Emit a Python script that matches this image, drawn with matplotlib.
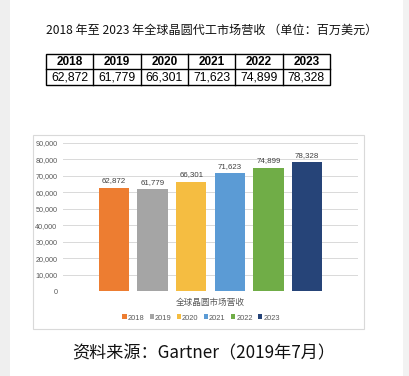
import matplotlib
matplotlib.use("Agg")
import matplotlib.pyplot as plt
from matplotlib.patches import Rectangle, Patch

years = ["2018", "2019", "2020", "2021", "2022", "2023"]
revenue = [62872, 61779, 66301, 71623, 74899, 78328]
colors = ["#ED7D31", "#A5A5A5", "#F5BD41", "#5B9BD5", "#70AD47", "#264478"]
yticks = [0, 10000, 20000, 30000, 40000, 50000, 60000, 70000, 80000, 90000]
title = "2018 年至 2023 年全球晶圆代工市场营收 （单位：百万美元）"
category = "全球晶圆市场营收"
source = "资料来源：Gartner（2019年7月）"

W, H = 409, 376
fig = plt.figure(figsize=(W / 100, H / 100), dpi=100)
fig.patch.set_facecolor("white")

def fx(px):
    return px / W

def fy(py):
    return 1 - py / H

cjk = ["Noto Sans CJK SC", "DejaVu Sans"]
latin = ["Liberation Sans", "DejaVu Sans"]

# side strips
fig.add_artist(Rectangle((0, 0), fx(10), 1, transform=fig.transFigure,
                         facecolor="#efefef", edgecolor="none", zorder=-2))
fig.add_artist(Rectangle((fx(403), 0), fx(6), 1, transform=fig.transFigure,
                         facecolor="#f2f2f2", edgecolor="none", zorder=-2))

# title
fig.text(fx(212), fy(30), title, ha="center", va="center", fontsize=8.7,
         family=cjk, color="#111111")

# table
tl, tr, ttop, tmid, tbot = 46, 330, 54, 69, 85
n = len(years)
cw = (tr - tl) / n
fig.add_artist(Rectangle((fx(tl), fy(tbot)), fx(tr) - fx(tl), fy(ttop) - fy(tbot),
                         transform=fig.transFigure, facecolor="none",
                         edgecolor="black", lw=1.0))
fig.add_artist(plt.Line2D([fx(tl), fx(tr)], [fy(tmid), fy(tmid)],
                          transform=fig.transFigure, color="black", lw=1.0))
for i in range(1, n):
    x = tl + i * cw
    fig.add_artist(plt.Line2D([fx(x), fx(x)], [fy(ttop), fy(tbot)],
                              transform=fig.transFigure, color="black", lw=1.0))
for i, (yr, v) in enumerate(zip(years, revenue)):
    cx = tl + (i + 0.5) * cw
    fig.text(fx(cx), fy((ttop + tmid) / 2 + 0.5), yr, ha="center", va="center",
             fontsize=8.5, fontweight="bold", family=latin, color="black")
    fig.text(fx(cx), fy((tmid + tbot) / 2 + 0.5), f"{v:,}", ha="center", va="center",
             fontsize=8.8, family=latin, color="black")

# chart frame
fig.add_artist(Rectangle((fx(33), fy(329)), fx(364) - fx(33), fy(135) - fy(329),
                         transform=fig.transFigure, facecolor="white",
                         edgecolor="#d9d9d9", lw=0.8, zorder=-1))

# chart axes
ax = fig.add_axes([fx(63), fy(291), fx(358) - fx(63), fy(143) - fy(291)])
ax.set_zorder(1)
ax.set_facecolor("none")
xs = list(range(n))
bars = ax.bar(xs, revenue, width=0.78, color=colors, zorder=3)
ax.set_xlim(-1.31, 6.31)
ax.set_ylim(0, 90000)
ax.set_yticks(yticks)
ax.set_yticklabels([f"{t:,}" for t in yticks], fontsize=5.2, color="#595959",
                   family=latin)
ax.tick_params(axis="y", length=0, pad=4)
ax.tick_params(axis="x", length=0)
ax.set_xticks([])
ax.grid(axis="y", color="#d9d9d9", lw=0.7, zorder=0)
for s in ax.spines.values():
    s.set_visible(False)
for b, v in zip(bars, revenue):
    ax.annotate(f"{v:,}", (b.get_x() + b.get_width() / 2, v), xytext=(0, 2.5),
                textcoords="offset points", ha="center", va="bottom",
                fontsize=5.7, color="#404040", family=latin)

fig.text(fx(210), fy(302), category, ha="center", va="center", fontsize=6.2,
         family=cjk, color="#595959")

handles = [Patch(facecolor=c, edgecolor="none", label=y) for c, y in zip(colors, years)]
fig.legend(handles=handles, loc="center", bbox_to_anchor=(fx(201), fy(318)),
           ncol=6, frameon=False, handlelength=0.6, handleheight=0.6,
           handletextpad=0.1, columnspacing=0.7, borderpad=0,
           prop={"family": latin, "size": 5.4}, labelcolor="#595959")

fig.text(fx(204), fy(353), source, ha="center", va="center", fontsize=12.3,
         family=cjk, color="#111111")

fig.savefig("out.png", dpi=100, facecolor="white")
